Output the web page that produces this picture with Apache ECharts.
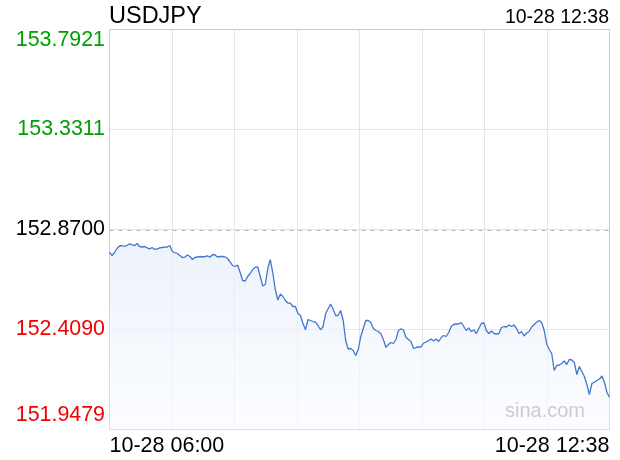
<!DOCTYPE html>
<html><head><meta charset="utf-8">
<script src="https://cdn.jsdelivr.net/npm/echarts@6/dist/echarts.min.js"></script>
<style>html,body{margin:0;padding:0;background:#fff}#c{width:620px;height:460px}</style>
</head><body><div id="c"></div>
<script>
const symbol = 'USDJPY';
const lastTimeLabel = '10-28 12:38';
const xTickLabels = ['10-28 06:00', '10-28 12:38'];
const yTickLabels = ['151.9479', '152.4090', '152.8700', '153.3311', '153.7921'];
const yTickColors = ['#f00000', '#f00000', '#000000', '#00a000', '#00a000'];
const yMin = 151.9479;
const yMax = 153.7921;
const prevClose = 152.8700;
const sessionMinutes = 398;   // 06:00 -> 12:38
const stepMinutes = 2;
const watermark = 'sina.com';

const prices = [
152.7653,152.7501,152.7640,152.7824,152.7939,152.7962,152.7916,152.7976,152.8041,152.7995,
152.7962,152.8055,152.7916,152.7893,152.7916,152.7856,152.7810,152.7870,152.7778,152.7810,
152.7856,152.7870,152.7884,152.7893,152.7962,152.7686,152.7640,152.7593,152.7501,152.7409,
152.7423,152.7524,152.7455,152.7317,152.7409,152.7432,152.7455,152.7432,152.7455,152.7487,
152.7423,152.7547,152.7524,152.7432,152.7455,152.7455,152.7441,152.7363,152.7202,152.7040,
152.6994,152.7063,152.6717,152.6349,152.6326,152.6533,152.6671,152.6856,152.6962,152.6971,
152.6533,152.6095,152.6164,152.6902,152.7317,152.6694,152.5934,152.5450,152.5726,152.5611,
152.5427,152.5311,152.5302,152.5150,152.5150,152.4827,152.4735,152.4366,152.4076,152.4551,
152.4504,152.4458,152.4426,152.4274,152.4076,152.4228,152.4813,152.5044,152.5265,152.5035,
152.4735,152.4735,152.4965,152.4504,152.3582,152.3190,152.3213,152.3121,152.2891,152.3167,
152.3767,152.4136,152.4504,152.4504,152.4412,152.4136,152.4044,152.3997,152.3891,152.3628,
152.3273,152.3398,152.3490,152.3444,152.3628,152.4044,152.4122,152.4067,152.3721,152.3628,
152.3536,152.3213,152.3260,152.3283,152.3283,152.3467,152.3504,152.3582,152.3651,152.3559,
152.3651,152.3536,152.3721,152.3813,152.3767,152.3951,152.4228,152.4320,152.4343,152.4343,
152.4412,152.4228,152.4044,152.4159,152.3997,152.4067,152.3905,152.4136,152.4366,152.4389,
152.4044,152.3905,152.4021,152.3905,152.3882,152.3905,152.4182,152.4228,152.4205,152.4297,
152.4228,152.4297,152.4136,152.3905,152.3997,152.3790,152.3928,152.3997,152.4205,152.4320,
152.4426,152.4504,152.4412,152.4044,152.3421,152.3167,152.2983,152.2199,152.2433,152.2453,
152.2522,152.2637,152.2476,152.2707,152.2683,152.2568,152.2015,152.2384,152.2153,152.1922,
152.1554,152.1093,152.1600,152.1660,152.1738,152.1807,152.1946,152.1646,152.1185,152.0968
];

const FONT = "'Liberation Sans', Arial, Helvetica, sans-serif";
const yInterval = (yMax - yMin) / 4;
const seriesData = prices.map((p, i) => [i * stepMinutes, p - yMin]);

const rich = {};
yTickColors.forEach((c, i) => { rich['t' + i] = { color: c, fontSize: 21.4, fontFamily: FONT }; });
rich.t0.padding = [0, 0, 4, 0];

const chart = echarts.init(document.getElementById('c'), null, { renderer: 'canvas' });
chart.setOption({
  animation: false,
  backgroundColor: '#fff',
  title: [
    { text: symbol, left: 109, top: 4.5, padding: 0,
      textStyle: { fontSize: 23.5, fontWeight: 'normal', color: '#000', fontFamily: FONT } },
    { text: lastTimeLabel, right: 11, top: 8, padding: 0,
      textStyle: { fontSize: 19.5, fontWeight: 'normal', color: '#000', fontFamily: FONT } }
  ],
  grid: { left: 109.5, right: 10.5, top: 29.5, bottom: 30.5, show: true,
          borderColor: '#cccccc', borderWidth: 1, backgroundColor: 'transparent' },
  xAxis: {
    type: 'value', min: 0, max: sessionMinutes, interval: sessionMinutes / 8,
    axisLine: { show: false }, axisTick: { show: false },
    axisLabel: {
      show: true, margin: 6, fontSize: 21.5, color: '#000', fontFamily: FONT,
      showMinLabel: true, showMaxLabel: true,
      alignMinLabel: 'left', alignMaxLabel: 'right',
      formatter: (v, idx) => idx === 0 ? xTickLabels[0] : (idx === 8 ? xTickLabels[1] : '')
    },
    splitLine: { show: true, lineStyle: { type: [1, 1], width: 1,
      color: ['rgba(0,0,0,0)', '#cfcfcf', '#cfcfcf', '#cfcfcf', '#cfcfcf', '#cfcfcf', '#cfcfcf', '#cfcfcf', 'rgba(0,0,0,0)'] } }
  },
  yAxis: {
    type: 'value', min: 0, max: yInterval * 4, interval: yInterval,
    axisLine: { show: false }, axisTick: { show: false },
    axisLabel: {
      show: true, margin: 4.5, fontFamily: FONT, fontSize: 21.4,
      showMinLabel: true, showMaxLabel: true,
      verticalAlignMinLabel: 'bottom', verticalAlignMaxLabel: 'top',
      formatter: (v, idx) => '{t' + idx + '|' + yTickLabels[idx] + '}',
      rich: rich
    },
    splitLine: { show: true, lineStyle: { type: [1, 1], width: 1,
      color: ['rgba(0,0,0,0)', '#cfcfcf', '#cfcfcf', '#cfcfcf', 'rgba(0,0,0,0)'] } }
  },
  graphic: [
    { type: 'text', left: 505, top: 401, z: 100, silent: true,
      style: { text: watermark, fontSize: 20, fontFamily: FONT, fill: '#cccccc' } }
  ],
  series: [{
    type: 'line', data: seriesData, showSymbol: false, symbol: 'none',
    lineStyle: { color: '#4477cc', width: 1.3 },
    areaStyle: { color: new echarts.graphic.LinearGradient(0, 0, 0, 1, [
      { offset: 0, color: '#e5edfb' }, { offset: 1, color: '#fafcff' }]) },
    markLine: {
      silent: true, symbol: 'none', label: { show: false },
      lineStyle: { color: '#b4b4b4', type: [4, 5], width: 1 },
      data: [{ yAxis: prevClose - yMin }]
    }
  }]
});
</script></body></html>
